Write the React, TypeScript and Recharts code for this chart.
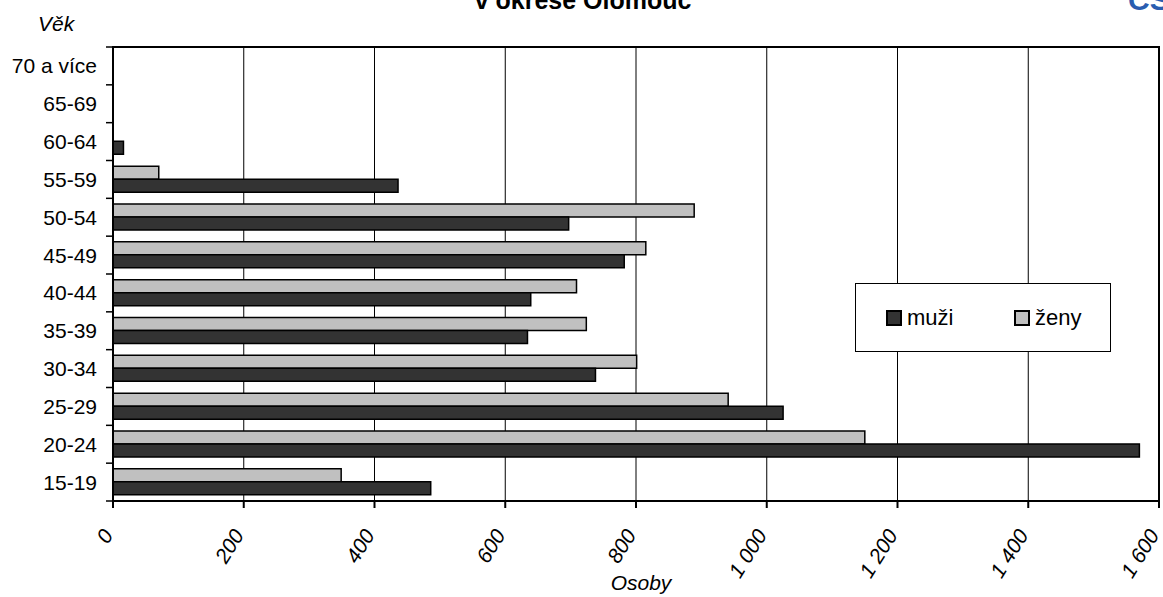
import React from 'react';
import { BarChart, Bar, XAxis, YAxis, CartesianGrid, Legend, ReferenceArea } from 'recharts';

// Categories, top to bottom
const ageGroups = ['70 a více', '65-69', '60-64', '55-59', '50-54', '45-49', '40-44', '35-39', '30-34', '25-29', '20-24', '15-19'];
const muzi = [0, 0, 16, 436, 697, 782, 639, 634, 738, 1025, 1570, 486];
const zeny = [0, 0, 0, 70, 889, 815, 709, 724, 801, 941, 1150, 349];
const xTicks = [0, 200, 400, 600, 800, 1000, 1200, 1400, 1600];
const seriesKeys = ['muzi', 'zeny'];
const seriesNames = ['muži', 'ženy'];
const seriesColors = ['#333333', '#c0c0c0'];
const titleText = 'v okrese Olomouc';
const yTitle = 'Věk';
const xTitle = 'Osoby';

const data = ageGroups.map((age, i) => ({ age, muzi: muzi[i], zeny: zeny[i] }));

const W = 1163;
const H = 597;
const MARGIN = { top: 47, right: 4, bottom: 36, left: 0 };
const X_AXIS_H = 60;
const Y_AXIS_W = 113;
const BAND = (H - MARGIN.top - MARGIN.bottom - X_AXIS_H) / ageGroups.length;
const FONT = '"Liberation Sans", Arial, sans-serif';

const fmt = (v: number) => {
  const s = String(v);
  return s.length > 3 ? s.slice(0, s.length - 3) + ' ' + s.slice(s.length - 3) : s;
};

const YTick = (props: any) => {
  const { x, y, payload, index } = props;
  const axisX = x + 16;
  return (
    <g>
      <text x={x} y={y} dy="0.36em" textAnchor="end" fontSize={21} fontFamily={FONT} fill="#000">
        {payload.value}
      </text>
      <line x1={axisX - 7} x2={axisX} y1={y - BAND / 2} y2={y - BAND / 2} stroke="#000" strokeWidth={1.5} />
      {index === ageGroups.length - 1 && (
        <line x1={axisX - 7} x2={axisX} y1={y + BAND / 2} y2={y + BAND / 2} stroke="#000" strokeWidth={1.5} />
      )}
    </g>
  );
};

const XTick = (props: any) => {
  const { x, y, payload } = props;
  const px = x + 1;
  return (
    <text
      x={px}
      y={y}
      transform={`rotate(-58, ${px}, ${y})`}
      textAnchor="end"
      fontSize={21}
      fontStyle="italic"
      fontFamily={FONT}
      fill="#000"
    >
      {fmt(payload.value)}
    </text>
  );
};

const LegendBox = () => {
  const order = [0, 1];
  const lefts = [30, 158];
  return (
    <div
      style={{
        position: 'relative',
        width: 256,
        height: 69,
        boxSizing: 'border-box',
        border: '1px solid #000',
        background: '#fff',
        fontFamily: FONT,
        fontSize: 22,
      }}
    >
      {order.map((i) => (
        <div
          key={seriesKeys[i]}
          style={{ position: 'absolute', left: lefts[i], top: 0, height: 67, display: 'flex', alignItems: 'center' }}
        >
          <span
            style={{
              display: 'inline-block',
              width: 12,
              height: 12,
              background: seriesColors[i],
              border: '2px solid #000',
              marginRight: 5,
            }}
          />
          <span style={{ color: '#000', lineHeight: '22px' }}>{seriesNames[i]}</span>
        </div>
      ))}
    </div>
  );
};

export default function App() {
  return (
    <div style={{ position: 'absolute', left: 0, top: 0, width: W, height: H, background: '#fff', overflow: 'hidden' }}>
      <svg width={W} height={60} style={{ position: 'absolute', left: 0, top: 0, zIndex: 2, pointerEvents: 'none' }}>
        <text x={583} y={9} textAnchor="middle" fontSize={25} fontWeight="bold" fontFamily={FONT} fill="#000">
          {titleText}
        </text>
        <text x={1128} y={10} fontSize={30} fontWeight="bold" fontFamily={FONT} fill="#2a5db0">
          ČSÚ
        </text>
        <text x={38} y={31} fontSize={21} fontStyle="italic" fontFamily={FONT} fill="#000">
          {yTitle}
        </text>
      </svg>
      <BarChart
        width={W}
        height={H}
        data={data}
        layout="vertical"
        margin={MARGIN}
        barCategoryGap="15%"
        barGap={0}
      >
        <CartesianGrid horizontal={false} vertical stroke="#000" strokeWidth={1} />
        <XAxis
          type="number"
          domain={[0, 1600]}
          ticks={xTicks}
          interval={0}
          height={X_AXIS_H}
          tickSize={7}
          tickMargin={27}
          tick={<XTick />}
          axisLine={{ stroke: '#000', strokeWidth: 2 }}
          tickLine={{ stroke: '#000', strokeWidth: 2 }}
          label={{
            value: xTitle,
            position: 'bottom',
            offset: 14,
            dx: 5,
            style: { fontStyle: 'italic', fontSize: 21, fontFamily: FONT, fill: '#000' },
          }}
        />
        <YAxis
          type="category"
          dataKey="age"
          width={Y_AXIS_W}
          interval={0}
          tickSize={7}
          tickMargin={9}
          tickLine={false}
          tick={<YTick />}
          axisLine={{ stroke: '#000', strokeWidth: 2 }}
        />
        <ReferenceArea x1={0} x2={1600} fill="none" stroke="#000" strokeWidth={2} />
        <Legend
          layout="vertical"
          align="center"
          verticalAlign="middle"
          content={() => <LegendBox />}
          wrapperStyle={{ position: 'absolute', left: 855, top: 283, width: 256, height: 69 }}
        />
        <Bar dataKey="zeny" name={seriesNames[1]} fill={seriesColors[1]} stroke="#000" strokeWidth={1.5} isAnimationActive={false} />
        <Bar dataKey="muzi" name={seriesNames[0]} fill={seriesColors[0]} stroke="#000" strokeWidth={1.5} isAnimationActive={false} />
      </BarChart>
    </div>
  );
}
